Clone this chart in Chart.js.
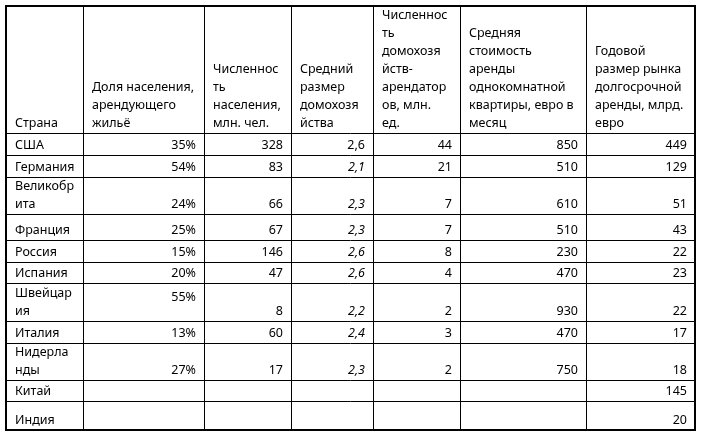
<!DOCTYPE html>
<html><head><meta charset="utf-8">
<script src="https://cdn.jsdelivr.net/npm/chart.js@4"></script>
<style>html,body{margin:0;padding:0;background:#fff}#w{width:705px;height:440px}</style>
</head><body><div id="w"><canvas id="c"></canvas></div>
<script>
const headers = [
  ["Страна"],
  ["Доля населения,","арендующего","жильё"],
  ["Численнос","ть","населения,","млн. чел."],
  ["Средний","размер","домохозя","йства"],
  ["Численнос","ть","домохозя","йств-","арендатор","ов, млн.","ед."],
  ["Средняя","стоимость","аренды","однокомнатной","квартиры, евро в","месяц"],
  ["Годовой","размер рынка","долгосрочной","аренды, млрд.","евро"]
];
const countries = [["США"],["Германия"],["Великобр","ита"],["Франция"],["Россия"],["Испания"],["Швейцар","ия"],["Италия"],["Нидерла","нды"],["Китай"],["Индия"]];
const rentShare = ["35%","54%","24%","25%","15%","20%","55%","13%","27%","",""];
const population = ["328","83","66","67","146","47","8","60","17","",""];
const householdSize = ["2,6","2,1","2,3","2,3","2,6","2,6","2,2","2,4","2,3","",""];
const renterHouseholds = ["44","21","7","7","8","4","2","3","2","",""];
const avgRent = ["850","510","610","510","230","470","930","470","750","",""];
const marketSize = ["449","129","51","43","22","23","22","17","18","145","20"];

// layout (pixels in table space)
const colEdges = [6,83,204,291,373,460,586,695];
const rowEdges = [6,133,155,177,214,240,262,283,321,343,380,401,430];

const tablePlugin = {
  id:'table',
  afterDraw(chart){
    const ctx = chart.ctx, X = chart.scales.x, Y = chart.scales.y;
    const px = v => X.getPixelForValue(v), py = v => Y.getPixelForValue(v);
    ctx.save();
    ctx.strokeStyle = '#000';
    // inner lines
    ctx.lineWidth = 1;
    colEdges.forEach(c=>{ctx.beginPath();ctx.moveTo(Math.round(px(c))+0.5,py(rowEdges[0]));ctx.lineTo(Math.round(px(c))+0.5,py(rowEdges[rowEdges.length-1]));ctx.stroke();});
    rowEdges.forEach(r=>{ctx.beginPath();ctx.moveTo(px(colEdges[0]),Math.round(py(r))+0.5);ctx.lineTo(px(colEdges[colEdges.length-1]),Math.round(py(r))+0.5);ctx.stroke();});
    ctx.lineWidth = 2;
    ctx.strokeRect(px(colEdges[0]),py(rowEdges[0]),px(colEdges[7])-px(colEdges[0]),py(rowEdges[12])-py(rowEdges[0]));
    ctx.fillStyle = '#000';
    const font = (it)=> (it?'italic ':'')+'12.5px "Noto Sans", sans-serif';
    const LH = 18;
    // headers
    ctx.textAlign='left'; ctx.textBaseline='alphabetic';
    headers.forEach((lines,i)=>{
      ctx.font = font(false);
      const bottom = py(rowEdges[1]) - 6;
      lines.forEach((t,k)=>ctx.fillText(t, px(colEdges[i])+9, bottom - (lines.length-1-k)*LH));
    });
    const cols = [rentShare,population,householdSize,renterHouseholds,avgRent,marketSize];
    countries.forEach((name,r)=>{
      const bottom = py(rowEdges[r+2]) - 6;
      ctx.textAlign='left'; ctx.font=font(false);
      name.forEach((t,k)=>ctx.fillText(t, px(colEdges[0])+9, bottom-(name.length-1-k)*LH));
      cols.forEach((arr,c)=>{
        const v = arr[r]; if(!v) return;
        ctx.textAlign='right';
        ctx.font = font(c===2 && r>0);
        let y = bottom;
        if(c===0 && r===6) y = bottom-14;
        ctx.fillText(v, px(colEdges[c+2])-8, y);
      });
    });
    ctx.restore();
  }
};

new Chart(document.getElementById('c'),{
  type:'scatter',
  data:{datasets:[{data:[]}]},
  options:{
    responsive:true, maintainAspectRatio:false, animation:false,
    layout:{padding:0},
    plugins:{legend:{display:false},tooltip:{enabled:false}},
    scales:{
      x:{type:'linear',min:0,max:705,display:false},
      y:{type:'linear',min:0,max:440,reverse:true,display:false}
    }
  },
  plugins:[tablePlugin]
});
</script></body></html>
